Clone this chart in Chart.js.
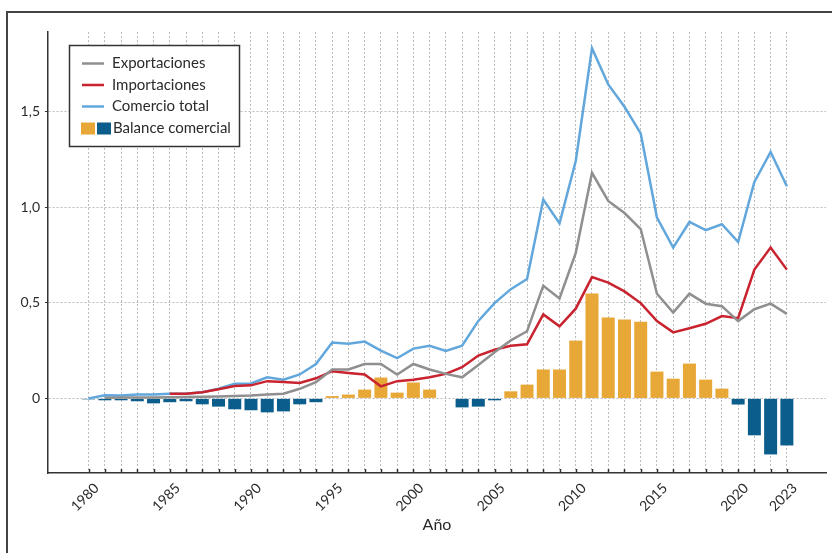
<!DOCTYPE html>
<html>
<head>
<meta charset="utf-8">
<script src="https://cdn.jsdelivr.net/npm/chart.js@4.4.1/dist/chart.umd.min.js"></script>
<style>
  html, body { margin: 0; padding: 0; background: #ffffff; }
  #wrap { width: 832px; height: 553px; position: relative; }
</style>
</head>
<body>
<div id="wrap"><canvas id="chart" width="832" height="553"></canvas></div>
<script>
// Years on the horizontal axis
const years = [1980, 1981, 1982, 1983, 1984, 1985, 1986, 1987, 1988, 1989,
  1990, 1991, 1992, 1993, 1994, 1995, 1996, 1997, 1998, 1999,
  2000, 2001, 2002, 2003, 2004, 2005, 2006, 2007, 2008, 2009,
  2010, 2011, 2012, 2013, 2014, 2015, 2016, 2017, 2018, 2019,
  2020, 2021, 2022, 2023];

// Exportaciones
const exportaciones = [null, 0.003, 0.004, 0.005, 0.005, 0.006, 0.007, 0.008, 0.010, 0.012,
  0.015, 0.020, 0.024, 0.050, 0.085, 0.151, 0.151, 0.180, 0.180, 0.125,
  0.180, 0.151, 0.128, 0.110, 0.175, 0.241, 0.303, 0.351, 0.589, 0.522,
  0.760, 1.179, 1.032, 0.969, 0.885, 0.547, 0.448, 0.547, 0.495, 0.482,
  0.404, 0.466, 0.495, 0.442];

// Importaciones
const importaciones = [null, null, null, null, null, 0.024, 0.024, 0.032, 0.048, 0.065,
  0.068, 0.090, 0.085, 0.081, 0.105, 0.142, 0.133, 0.125, 0.063, 0.090,
  0.097, 0.110, 0.128, 0.163, 0.224, 0.254, 0.275, 0.283, 0.439, 0.377,
  0.469, 0.634, 0.605, 0.559, 0.498, 0.404, 0.345, 0.367, 0.390, 0.430,
  0.419, 0.673, 0.788, 0.673];

// Comercio total
const comercioTotal = [0.000, 0.016, 0.015, 0.020, 0.020, 0.024, 0.024, 0.032, 0.050, 0.076,
  0.078, 0.110, 0.098, 0.125, 0.180, 0.292, 0.285, 0.297, 0.250, 0.210,
  0.260, 0.275, 0.248, 0.276, 0.405, 0.498, 0.571, 0.624, 1.039, 0.915,
  1.241, 1.830, 1.641, 1.524, 1.385, 0.945, 0.788, 0.922, 0.879, 0.910,
  0.817, 1.131, 1.288, 1.109];

// Balance comercial
const balanceComercial = [-0.005, -0.010, -0.010, -0.015, -0.026, -0.020, -0.015, -0.031, -0.043, -0.057,
  -0.062, -0.073, -0.068, -0.031, -0.020, 0.012, 0.020, 0.046, 0.109, 0.030,
  0.083, 0.046, 0.000, -0.047, -0.043, -0.010, 0.037, 0.072, 0.151, 0.151,
  0.302, 0.548, 0.423, 0.412, 0.401, 0.140, 0.103, 0.182, 0.098, 0.051,
  -0.032, -0.193, -0.293, -0.246];

// Labelled years and y-axis ticks
const labelledYears = [1980, 1985, 1990, 1995, 2000, 2005, 2010, 2015, 2020, 2023];
const yTicks = [0, 0.5, 1.0, 1.5];

const FONT = 'Lato, "Noto Sans", sans-serif';
const TEXT = '#2b2b2b';
const GRID = '#bcbcbc';
const AXIS = '#333333';
const C_EXP = '#8f8f8f';
const C_IMP = '#c8232e';
const C_TOT = '#62a7dc';
const C_POS = '#e8a838';
const C_NEG = '#0b5d8c';

function points(values) {
  const out = [];
  years.forEach((yr, i) => { if (values[i] !== null) out.push({ x: yr, y: values[i] }); });
  return out;
}

// White page and the outer frame
const framePlugin = {
  id: 'frame',
  beforeDraw(chart) {
    const ctx = chart.ctx;
    ctx.save();
    ctx.fillStyle = '#ffffff';
    ctx.fillRect(0, 0, chart.width, chart.height);
    ctx.strokeStyle = '#444444';
    ctx.lineWidth = 2;
    ctx.strokeRect(7, 12, chart.width + 50, chart.height + 50);
    ctx.restore();
  }
};

// Short inward tick marks on the year axis
const innerTicksPlugin = {
  id: 'innerTicks',
  afterDraw(chart) {
    const xs = chart.scales.x;
    const ctx = chart.ctx;
    ctx.save();
    ctx.strokeStyle = AXIS;
    ctx.lineWidth = 1.5;
    ctx.beginPath();
    xs.ticks.forEach(t => {
      const px = Math.round(xs.getPixelForValue(t.value)) + 0.5;
      ctx.moveTo(px, xs.top - 4);
      ctx.lineTo(px, xs.top);
    });
    ctx.stroke();
    ctx.restore();
  }
};

// Boxed legend with a two-colour key for the balance bars
const boxLegendPlugin = {
  id: 'boxLegend',
  afterDraw(chart) {
    const ctx = chart.ctx;
    const ds = chart.data.datasets;
    const x0 = 69.5, y0 = 45.5, w = 170, h = 101;
    const rows = [63.5, 85, 106.5, 128.5];
    ctx.save();
    ctx.fillStyle = '#ffffff';
    ctx.fillRect(x0, y0, w, h);
    ctx.strokeStyle = '#333333';
    ctx.lineWidth = 1.5;
    ctx.strokeRect(x0, y0, w, h);
    ctx.font = '15px ' + FONT;
    ctx.textBaseline = 'middle';
    ctx.fillStyle = TEXT;
    for (let i = 0; i < 3; i++) {
      ctx.strokeStyle = ds[i].borderColor;
      ctx.lineWidth = 2.5;
      ctx.beginPath();
      ctx.moveTo(82, rows[i]);
      ctx.lineTo(104, rows[i]);
      ctx.stroke();
      ctx.fillStyle = TEXT;
      ctx.fillText(ds[i].label, 112, rows[i]);
    }
    ctx.fillStyle = C_POS;
    ctx.fillRect(81, rows[3] - 6, 14, 12);
    ctx.fillStyle = C_NEG;
    ctx.fillRect(97, rows[3] - 6, 14, 12);
    ctx.fillStyle = TEXT;
    ctx.fillText(ds[3].label, 113, rows[3]);
    ctx.restore();
  }
};

new Chart(document.getElementById('chart'), {
  type: 'bar',
  data: {
    datasets: [
      { type: 'line', label: 'Exportaciones', data: points(exportaciones), borderColor: C_EXP,
        borderWidth: 2.5, pointRadius: 0, tension: 0, order: 1 },
      { type: 'line', label: 'Importaciones', data: points(importaciones), borderColor: C_IMP,
        borderWidth: 2.5, pointRadius: 0, tension: 0, order: 2 },
      { type: 'line', label: 'Comercio total', data: points(comercioTotal), borderColor: C_TOT,
        borderWidth: 2.5, pointRadius: 0, tension: 0, order: 3 },
      { type: 'bar', label: 'Balance comercial', data: points(balanceComercial),
        backgroundColor: c => (c.raw && c.raw.y < 0) ? C_NEG : C_POS,
        barPercentage: 0.8, categoryPercentage: 1.0, order: 4 }
    ]
  },
  options: {
    responsive: false,
    animation: false,
    devicePixelRatio: 1,
    layout: { padding: { left: 0, right: 6, top: 32, bottom: 0 } },
    plugins: { legend: { display: false }, tooltip: { enabled: false } },
    scales: {
      x: {
        type: 'linear',
        offset: false,
        min: 1977.5,
        max: 2025.41,
        afterBuildTicks: s => { s.ticks = years.map(v => ({ value: v })); },
        afterFit: s => { s.height = 80; },
        grid: { color: GRID, lineWidth: 1, drawTicks: false, offset: false },
        border: { color: AXIS, width: 1.5, dash: [2, 2] },
        ticks: {
          autoSkip: false, minRotation: 45, maxRotation: 45, labelOffset: 8, padding: 7,
          color: TEXT, font: { family: FONT, size: 14 },
          callback: v => labelledYears.includes(v) ? String(v) : ''
        },
        title: { display: true, text: 'Año', color: TEXT, font: { family: FONT, size: 16 },
          padding: { top: 0, bottom: 19 } }
      },
      y: {
        type: 'linear',
        min: -0.39,
        max: 1.915,
        afterBuildTicks: s => { s.ticks = yTicks.map(v => ({ value: v })); },
        afterFit: s => { s.width = 48; },
        grid: { color: GRID, lineWidth: 1, tickLength: 3, tickColor: AXIS },
        border: { color: AXIS, width: 1.5, dash: [2, 2] },
        ticks: {
          padding: 5, color: TEXT, font: { family: FONT, size: 14 },
          callback: v => v === 0 ? '0' : v.toFixed(1).replace('.', ',')
        }
      }
    }
  },
  plugins: [framePlugin, innerTicksPlugin, boxLegendPlugin]
});
</script>
</body>
</html>
